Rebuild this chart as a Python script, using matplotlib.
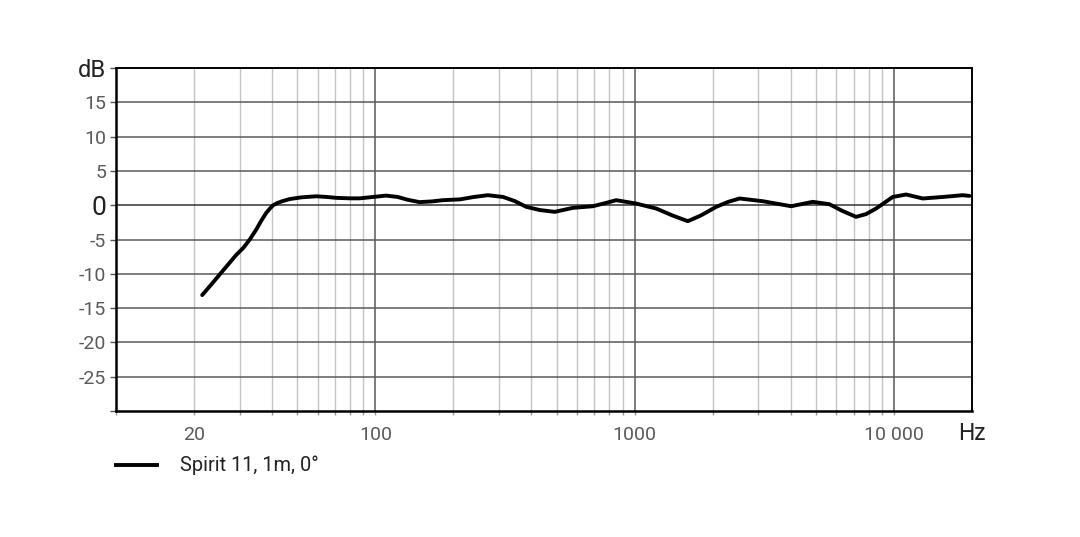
import matplotlib.pyplot as plt
from matplotlib.ticker import FixedLocator, NullFormatter

plt.rcParams['font.family'] = ['Roboto', 'DejaVu Sans']

# frequency response
freq_hz = [21.5, 23.5, 25.9, 29.0, 31.0, 32.8, 34.8, 36.4, 38.0, 39.3, 40.4, 41.8,
           43.5, 46.8, 52.0, 59.3, 65.0, 70.8, 80.0, 87.0, 98.0, 110, 122, 133,
           148, 165, 182, 212, 240, 272, 311, 345, 382, 430, 492, 530, 578, 690,
           770, 849, 1014, 1212, 1400, 1604, 1800, 2064, 2300, 2539, 3120, 4013,
           4862, 5637, 6300, 7143, 7800, 8532, 9894, 11140, 12910, 15420, 18410,
           19540]
level_db = [-13.1, -11.4, -9.5, -7.3, -6.2, -5.0, -3.5, -2.2, -1.1, -0.45, 0.0, 0.3,
            0.55, 0.9, 1.15, 1.3, 1.2, 1.07, 1.0, 1.0, 1.2, 1.4, 1.2, 0.8,
            0.45, 0.55, 0.73, 0.85, 1.2, 1.46, 1.2, 0.6, -0.24, -0.7, -0.97, -0.7,
            -0.39, -0.15, 0.3, 0.73, 0.24, -0.49, -1.5, -2.33, -1.5, -0.24, 0.5, 0.98,
            0.58, -0.15, 0.49, 0.15, -0.8, -1.7, -1.3, -0.49, 1.2, 1.56, 0.98, 1.2,
            1.46, 1.36]

y_ticks = [-30, -25, -20, -15, -10, -5, 0, 5, 10, 15, 20]
y_labels = ['', '-25', '-20', '-15', '-10', '-5', '0', '5', '10', '15', 'dB']
x_major = [100, 1000, 10000]
x_labels = {20: '20', 100: '100', 1000: '1000', 10000: '10 000'}
legend_label = 'Spirit 11, 1m, 0°'

fig = plt.figure(figsize=(10.8, 5.37), dpi=100)
ax = fig.add_axes([116 / 1080, 1 - 411 / 537, (972 - 116) / 1080, (411 - 68) / 537])
ax.set_xscale('log')
ax.set_xlim(10, 20000)
ax.set_ylim(-30, 20)

# vertical grid: decades darker, minor lighter
minor = [m * d for d in (10, 100, 1000, 10000) for m in range(2, 10) if m * d < 20000]
for f in minor:
    ax.axvline(f, color='#c4c4c4', lw=1.0, zorder=1)
for f in x_major:
    ax.axvline(f, color='#666666', lw=1.2, zorder=1)
for v in y_ticks[1:-1]:
    ax.axhline(v, color='#333333' if v == 0 else '#5a5a5a', lw=1.1, zorder=1)

ax.plot(freq_hz, level_db, color='black', lw=2.8, solid_joinstyle='round',
        solid_capstyle='round', zorder=3)

ax.xaxis.set_major_locator(FixedLocator([10] + minor + x_major))
ax.xaxis.set_minor_locator(FixedLocator([]))
ax.xaxis.set_minor_formatter(NullFormatter())
ax.set_xticklabels([x_labels.get(t, '') for t in [10] + minor + x_major])
ax.tick_params(axis='x', length=3, width=1, color='#999999', pad=8,
               labelsize=14, labelcolor='#5a5a5a')

ax.set_yticks(y_ticks)
ax.set_yticklabels(y_labels)
ax.tick_params(axis='y', length=4, width=1, color='#555555', pad=3,
               labelsize=14, labelcolor='#5a5a5a')
for lab in ax.get_yticklabels():
    if lab.get_text() == '0':
        lab.set_fontsize(19)
        lab.set_color('#222222')
    elif lab.get_text() == 'dB':
        lab.set_fontsize(17)
        lab.set_color('#222222')

for side in ('left', 'bottom'):
    ax.spines[side].set_linewidth(1.8)
for side in ('top', 'right'):
    ax.spines[side].set_linewidth(1.4)
for s in ax.spines.values():
    s.set_color('black')
    s.set_zorder(4)

fig.text(972 / 1080, 1 - 434 / 537, 'Hz', fontsize=16.5, color='#222222',
         ha='center', va='center')

# legend line and text
fig.add_artist(plt.Line2D([116 / 1080, 157 / 1080], [1 - 465 / 537] * 2,
                          color='black', lw=2.8, transform=fig.transFigure))
fig.text(180 / 1080, 1 - 465 / 537, legend_label, fontsize=14.4, color='#222222',
         va='center', ha='left')

fig.savefig('out.png', dpi=100, facecolor='white')
